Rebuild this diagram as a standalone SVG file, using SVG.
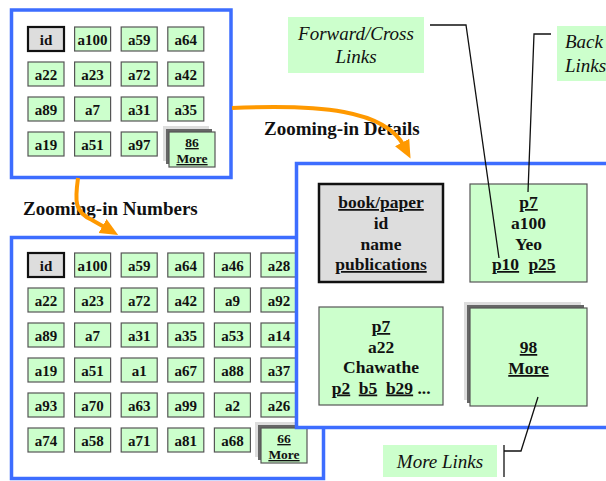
<svg xmlns="http://www.w3.org/2000/svg" width="606" height="481" viewBox="0 0 606 481">
<style>
.frame{fill:#fff;stroke:#3d6dff;stroke-width:3.5}
.cell{fill:#ccffcc;stroke:#555;stroke-width:1.2}
.idc{fill:#dddddd;stroke:#111;stroke-width:2.2}
.ct{font-family:"Liberation Serif",serif;font-weight:bold;font-size:15px;text-anchor:middle;fill:#111}
.mt{font-family:"Liberation Serif",serif;font-weight:bold;font-size:13.5px;text-anchor:middle;fill:#111;text-decoration:underline}
.dt{font-family:"Liberation Serif",serif;font-weight:bold;font-size:17.5px;text-anchor:middle;fill:#111}
.u{text-decoration:underline}
.lab{fill:#ccffcc}
.it{font-family:"Liberation Serif",serif;font-style:italic;font-size:19px;fill:#111}
.hd{font-family:"Liberation Serif",serif;font-weight:bold;font-size:19px;fill:#111}
.sh1{fill:#dddddd}
.sh2{fill:#666}
.ln{fill:none;stroke:#111;stroke-width:1.3}
.arr{fill:none;stroke:#ff9900;stroke-width:4}
</style>
<defs>
<marker id="ah" markerUnits="userSpaceOnUse" markerWidth="20" markerHeight="20" refX="4" refY="10" orient="auto">
<path d="M0,2 L18,10 L0,18 Z" fill="#ff9900"/>
</marker>
</defs>

<g id="overview-top">
<rect class="frame" x="11.5" y="10" width="219.5" height="167.5"/>
<g id="t-id"><rect class="idc" x="28" y="27" width="36" height="24"/><text class="ct" x="46" y="45">id</text></g>
<g id="t-a100"><rect class="cell" x="74.6" y="27" width="36" height="24"/><text class="ct" x="92.6" y="45">a100</text></g>
<g id="t-a59"><rect class="cell" x="121.2" y="27" width="36" height="24"/><text class="ct" x="139.2" y="45">a59</text></g>
<g id="t-a64"><rect class="cell" x="167.8" y="27" width="36" height="24"/><text class="ct" x="185.8" y="45">a64</text></g>
<g id="t-a22"><rect class="cell" x="28" y="62" width="36" height="24"/><text class="ct" x="46" y="80">a22</text></g>
<g id="t-a23"><rect class="cell" x="74.6" y="62" width="36" height="24"/><text class="ct" x="92.6" y="80">a23</text></g>
<g id="t-a72"><rect class="cell" x="121.2" y="62" width="36" height="24"/><text class="ct" x="139.2" y="80">a72</text></g>
<g id="t-a42"><rect class="cell" x="167.8" y="62" width="36" height="24"/><text class="ct" x="185.8" y="80">a42</text></g>
<g id="t-a89"><rect class="cell" x="28" y="97" width="36" height="24"/><text class="ct" x="46" y="115">a89</text></g>
<g id="t-a7"><rect class="cell" x="74.6" y="97" width="36" height="24"/><text class="ct" x="92.6" y="115">a7</text></g>
<g id="t-a31"><rect class="cell" x="121.2" y="97" width="36" height="24"/><text class="ct" x="139.2" y="115">a31</text></g>
<g id="t-a35"><rect class="cell" x="167.8" y="97" width="36" height="24"/><text class="ct" x="185.8" y="115">a35</text></g>
<g id="t-a19"><rect class="cell" x="28" y="132" width="36" height="24"/><text class="ct" x="46" y="150">a19</text></g>
<g id="t-a51"><rect class="cell" x="74.6" y="132" width="36" height="24"/><text class="ct" x="92.6" y="150">a51</text></g>
<g id="t-a97"><rect class="cell" x="121.2" y="132" width="36" height="24"/><text class="ct" x="139.2" y="150">a97</text></g>
<g id="t-more"><rect class="sh1" x="163" y="126" width="46" height="35"/><rect class="sh2" x="166" y="129" width="46" height="35"/><rect class="cell" x="169" y="132" width="46" height="35"/><text class="mt" x="192" y="147">86</text><text class="mt" x="192" y="163">More</text></g>
</g>

<g id="overview-bottom">
<rect class="frame" x="11.5" y="237.5" width="312" height="241"/>
<g id="b-id"><rect class="idc" x="28" y="253" width="36" height="24"/><text class="ct" x="46" y="271">id</text></g>
<g id="b-a100"><rect class="cell" x="74.6" y="253" width="36" height="24"/><text class="ct" x="92.6" y="271">a100</text></g>
<g id="b-a59"><rect class="cell" x="121.2" y="253" width="36" height="24"/><text class="ct" x="139.2" y="271">a59</text></g>
<g id="b-a64"><rect class="cell" x="167.8" y="253" width="36" height="24"/><text class="ct" x="185.8" y="271">a64</text></g>
<g id="b-a46"><rect class="cell" x="214.4" y="253" width="36" height="24"/><text class="ct" x="232.4" y="271">a46</text></g>
<g id="b-a28"><rect class="cell" x="261" y="253" width="36" height="24"/><text class="ct" x="279" y="271">a28</text></g>
<g id="b-a22"><rect class="cell" x="28" y="288" width="36" height="24"/><text class="ct" x="46" y="306">a22</text></g>
<g id="b-a23"><rect class="cell" x="74.6" y="288" width="36" height="24"/><text class="ct" x="92.6" y="306">a23</text></g>
<g id="b-a72"><rect class="cell" x="121.2" y="288" width="36" height="24"/><text class="ct" x="139.2" y="306">a72</text></g>
<g id="b-a42"><rect class="cell" x="167.8" y="288" width="36" height="24"/><text class="ct" x="185.8" y="306">a42</text></g>
<g id="b-a9"><rect class="cell" x="214.4" y="288" width="36" height="24"/><text class="ct" x="232.4" y="306">a9</text></g>
<g id="b-a92"><rect class="cell" x="261" y="288" width="36" height="24"/><text class="ct" x="279" y="306">a92</text></g>
<g id="b-a89"><rect class="cell" x="28" y="323" width="36" height="24"/><text class="ct" x="46" y="341">a89</text></g>
<g id="b-a7"><rect class="cell" x="74.6" y="323" width="36" height="24"/><text class="ct" x="92.6" y="341">a7</text></g>
<g id="b-a31"><rect class="cell" x="121.2" y="323" width="36" height="24"/><text class="ct" x="139.2" y="341">a31</text></g>
<g id="b-a35"><rect class="cell" x="167.8" y="323" width="36" height="24"/><text class="ct" x="185.8" y="341">a35</text></g>
<g id="b-a53"><rect class="cell" x="214.4" y="323" width="36" height="24"/><text class="ct" x="232.4" y="341">a53</text></g>
<g id="b-a14"><rect class="cell" x="261" y="323" width="36" height="24"/><text class="ct" x="279" y="341">a14</text></g>
<g id="b-a19"><rect class="cell" x="28" y="358" width="36" height="24"/><text class="ct" x="46" y="376">a19</text></g>
<g id="b-a51"><rect class="cell" x="74.6" y="358" width="36" height="24"/><text class="ct" x="92.6" y="376">a51</text></g>
<g id="b-a1"><rect class="cell" x="121.2" y="358" width="36" height="24"/><text class="ct" x="139.2" y="376">a1</text></g>
<g id="b-a67"><rect class="cell" x="167.8" y="358" width="36" height="24"/><text class="ct" x="185.8" y="376">a67</text></g>
<g id="b-a88"><rect class="cell" x="214.4" y="358" width="36" height="24"/><text class="ct" x="232.4" y="376">a88</text></g>
<g id="b-a37"><rect class="cell" x="261" y="358" width="36" height="24"/><text class="ct" x="279" y="376">a37</text></g>
<g id="b-a93"><rect class="cell" x="28" y="393" width="36" height="24"/><text class="ct" x="46" y="411">a93</text></g>
<g id="b-a70"><rect class="cell" x="74.6" y="393" width="36" height="24"/><text class="ct" x="92.6" y="411">a70</text></g>
<g id="b-a63"><rect class="cell" x="121.2" y="393" width="36" height="24"/><text class="ct" x="139.2" y="411">a63</text></g>
<g id="b-a99"><rect class="cell" x="167.8" y="393" width="36" height="24"/><text class="ct" x="185.8" y="411">a99</text></g>
<g id="b-a2"><rect class="cell" x="214.4" y="393" width="36" height="24"/><text class="ct" x="232.4" y="411">a2</text></g>
<g id="b-a26"><rect class="cell" x="261" y="393" width="36" height="24"/><text class="ct" x="279" y="411">a26</text></g>
<g id="b-a74"><rect class="cell" x="28" y="428" width="36" height="24"/><text class="ct" x="46" y="446">a74</text></g>
<g id="b-a58"><rect class="cell" x="74.6" y="428" width="36" height="24"/><text class="ct" x="92.6" y="446">a58</text></g>
<g id="b-a71"><rect class="cell" x="121.2" y="428" width="36" height="24"/><text class="ct" x="139.2" y="446">a71</text></g>
<g id="b-a81"><rect class="cell" x="167.8" y="428" width="36" height="24"/><text class="ct" x="185.8" y="446">a81</text></g>
<g id="b-a68"><rect class="cell" x="214.4" y="428" width="36" height="24"/><text class="ct" x="232.4" y="446">a68</text></g>
<g id="b-more"><rect class="sh1" x="255" y="422" width="46" height="35"/><rect class="sh2" x="258" y="425" width="46" height="35"/><rect class="cell" x="261" y="428" width="46" height="35"/><text class="mt" x="284" y="443">66</text><text class="mt" x="284" y="459">More</text></g>
</g>

<g id="detail">
<rect class="frame" x="296.5" y="163.5" width="330" height="264"/>
<g id="d-schema"><rect class="idc" x="319" y="184" width="124" height="98" style="stroke-width:2.5"/>
<text class="dt u" x="381" y="208">book/paper</text><text class="dt" x="381" y="229">id</text><text class="dt" x="381" y="249.5">name</text><text class="dt u" x="381" y="270">publications</text></g>
<g id="d-p7a100"><rect class="cell" x="470" y="184" width="117" height="98"/>
<text class="dt u" x="528.5" y="208">p7</text><text class="dt" x="528.5" y="229">a100</text><text class="dt" x="528.5" y="249.5">Yeo</text><text class="dt u" x="505.5" y="270">p10</text><text class="dt u" x="542" y="270">p25</text></g>
<g id="d-p7a22"><rect class="cell" x="319" y="307" width="124" height="98"/>
<text class="dt u" x="381" y="332">p7</text><text class="dt" x="381" y="352.5">a22</text><text class="dt" x="381" y="373">Chawathe</text><text class="dt u" x="341" y="393.5">p2</text><text class="dt u" x="368" y="393.5">b5</text><text class="dt u" x="399.5" y="393.5">b29</text><text class="dt" x="424" y="393.5">...</text></g>
<g id="d-more"><rect class="sh1" x="464" y="302" width="117" height="98"/><rect class="sh2" x="467" y="305" width="117" height="98"/><rect class="cell" x="470" y="308" width="117" height="98"/>
<text class="dt u" x="528.5" y="353">98</text><text class="dt u" x="528.5" y="374">More</text></g>
</g>

<g id="labels">
<g id="l-forward"><rect class="lab" x="288" y="17" width="136" height="56"/><text class="it" x="356" y="40" text-anchor="middle">Forward/Cross</text><text class="it" x="356" y="63" text-anchor="middle">Links</text></g>
<g id="l-back"><rect class="lab" x="557" y="26" width="60" height="55"/><text class="it" x="565" y="48">Back</text><text class="it" x="565" y="72">Links</text></g>
<g id="l-more"><rect class="lab" x="383" y="445" width="114" height="32"/><text class="it" x="440" y="468" text-anchor="middle">More Links</text></g>
<text class="hd" x="264" y="135">Zooming-in Details</text>
<text class="hd" x="23" y="215">Zooming-in Numbers</text>
</g>

<g id="connectors">
<polyline class="ln" points="430,25 466,25 499,258"/>
<polyline class="ln" points="551,34 534,34 528,192"/>
<polyline class="ln" points="538,397 521,451 504,451"/>
<line class="ln" x1="504" y1="445" x2="504" y2="477"/>
<path class="arr" d="M232,108 C320,104 385,110 404,146" marker-end="url(#ah)"/>
<path class="arr" d="M78,178 C75,200 74,212 92,220 L106,228" marker-end="url(#ah)"/>
</g>
</svg>
